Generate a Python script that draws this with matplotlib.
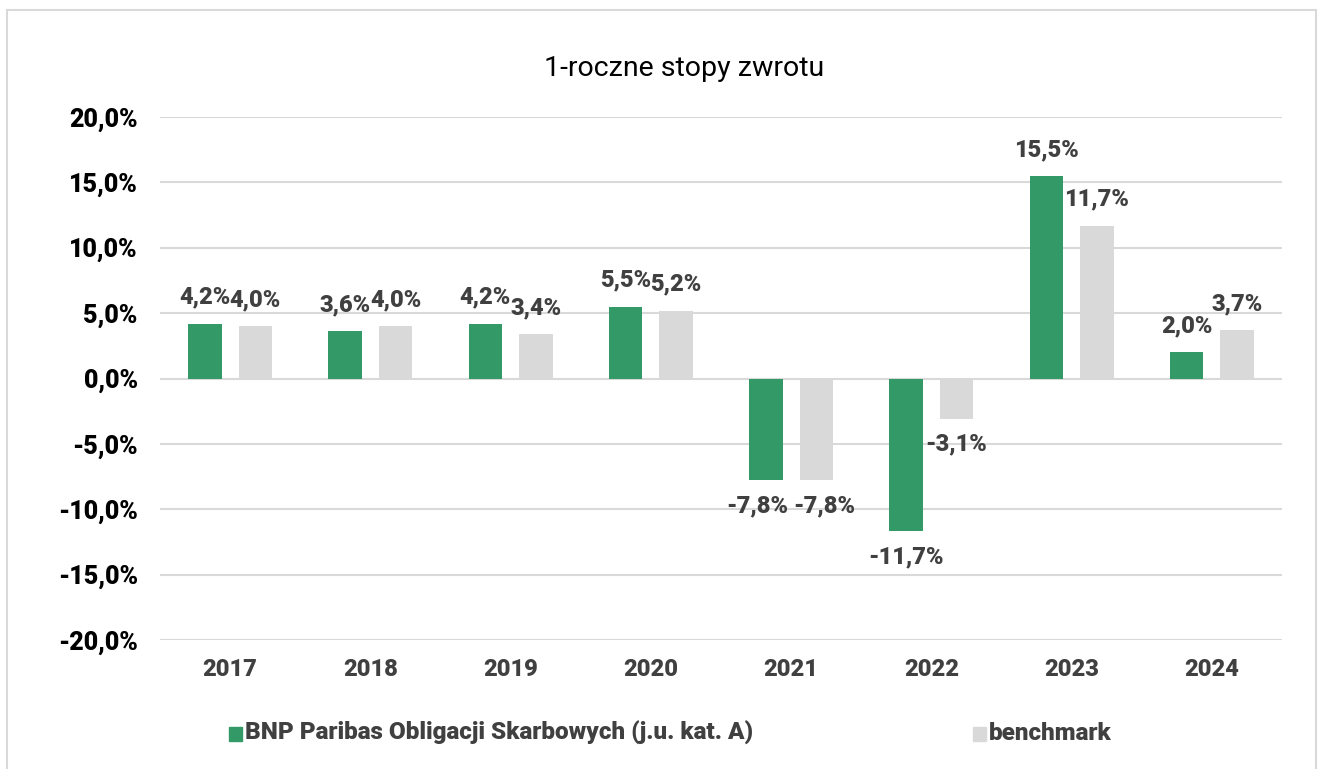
import matplotlib.pyplot as plt
from matplotlib.patches import Rectangle
import numpy as np

years = ['2017', '2018', '2019', '2020', '2021', '2022', '2023', '2024']
fund = [4.2, 3.6, 4.2, 5.5, -7.8, -11.7, 15.5, 2.0]
bench = [4.0, 4.0, 3.4, 5.2, -7.8, -3.1, 11.7, 3.7]
yticks = [20, 15, 10, 5, 0, -5, -10, -15, -20]

GREEN = '#339966'
GREY = '#D9D9D9'
TXT = '#404040'
FONT = ['Roboto', 'DejaVu Sans']
HEAVY = 900

fig = plt.figure(figsize=(13.22, 7.69), dpi=100)

# outer border of the chart
fig.patches.append(Rectangle((7 / 1322, -0.01), 1309 / 1322, 1 - 10 / 769 + 0.01,
                             transform=fig.transFigure, fill=False,
                             edgecolor='#D9D9D9', linewidth=1.5))

ax = fig.add_axes([160 / 1322, 1 - 640 / 769, 1122 / 1322, 523 / 769])
x = np.arange(len(years))
w = 0.24
off = 0.18
b1 = ax.bar(x - off, fund, w, color=GREEN, zorder=3)
b2 = ax.bar(x + off, bench, w, color=GREY, zorder=3)

for side, bars, vals in ((-1, b1, fund), (1, b2, bench)):
    for bar, v, other in zip(bars, vals, bench if side < 0 else fund):
        cx = bar.get_x() + bar.get_width() / 2
        dy = 19 if v >= 0 else -18
        # push neighbouring labels apart when they sit at the same height
        dx = side * 6 if abs(v - other) < 0.5 and v < 0 else 0
        ax.annotate(f'{v:.1f}%'.replace('.', ','), (cx, v), xytext=(dx, dy),
                    textcoords='offset points', ha='center', va='center',
                    fontsize=17, fontweight=HEAVY, color=TXT, family=FONT)

ax.set_xlim(-0.5, len(years) - 0.5)
ax.set_ylim(-20, 20)
ax.set_yticks(yticks)
ax.set_yticklabels([f'{t:.1f}%'.replace('.', ',') for t in yticks],
                   fontsize=18, fontweight=HEAVY, family=FONT, color='black')
ax.set_xticks(x)
ax.set_xticklabels(years, fontsize=17, fontweight=HEAVY, family=FONT, color=TXT)
ax.tick_params(length=0)
ax.tick_params(axis='y', pad=16)
ax.tick_params(axis='x', pad=13)
ax.grid(axis='y', color=GREY, linewidth=1.5, zorder=0)
for s in ax.spines.values():
    s.set_visible(False)

fig.text(684 / 1322, 1 - 68 / 769, '1-roczne stopy zwrotu', ha='center', va='center',
         fontsize=20.5, family=FONT, color='black')

# legend
fig.patches.append(Rectangle((229 / 1322, 1 - 741 / 769), 13 / 1322, 14 / 769,
                             transform=fig.transFigure, color=GREEN))
fig.text(245 / 1322, 1 - 733 / 769, 'BNP Paribas Obligacji Skarbowych (j.u. kat. A)',
         ha='left', va='center', fontsize=17.5, fontweight=HEAVY, family=FONT, color=TXT)
fig.patches.append(Rectangle((973 / 1322, 1 - 741 / 769), 13 / 1322, 14 / 769,
                             transform=fig.transFigure, color=GREY))
fig.text(989 / 1322, 1 - 733 / 769, 'benchmark',
         ha='left', va='center', fontsize=17.5, fontweight=HEAVY, family=FONT, color=TXT)

fig.savefig('out.png', dpi=100)
